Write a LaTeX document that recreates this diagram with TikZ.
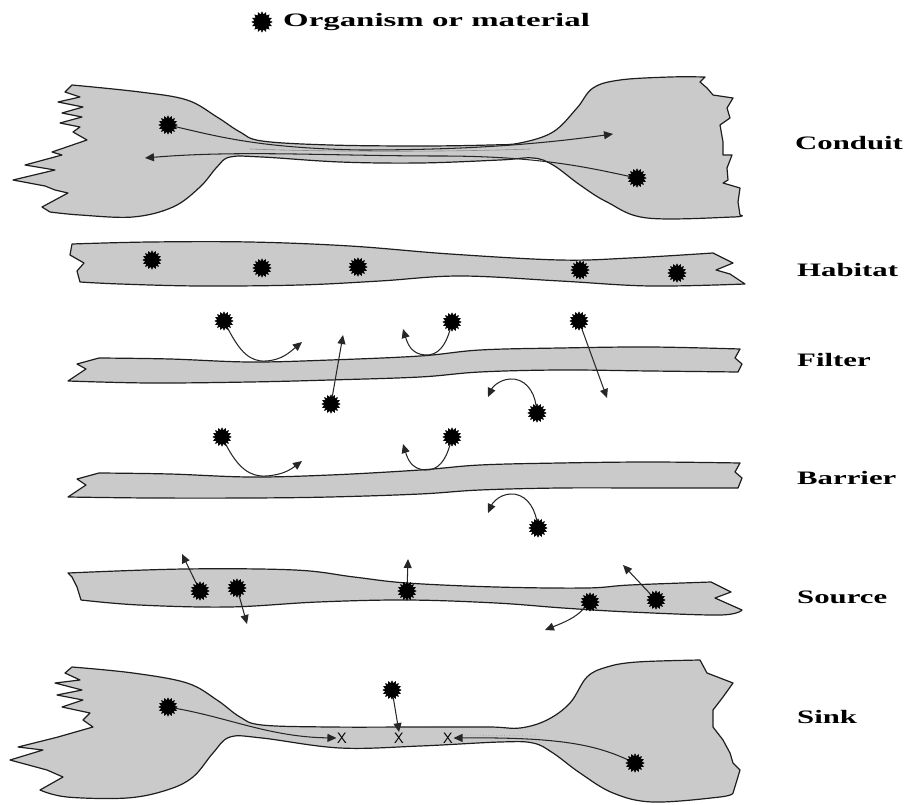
\documentclass[tikz,border=0pt]{standalone}
\usepackage{graphicx}
\usepackage{fontspec}
\setmainfont{Liberation Serif}
\usetikzlibrary{shapes.geometric,arrows.meta}
\definecolor{band}{RGB}{202,202,202}
\definecolor{edge}{RGB}{30,30,30}
\tikzset{
  region/.style={draw=edge, fill=band, line width=1.2pt, line join=round},
  org/.style={star, star points=16, star point ratio=1.38, fill=black, draw=black, line width=0.6pt, minimum size=18pt, inner sep=0pt},
  arr/.style={draw=black!85, line width=1.05pt, -{Triangle[length=9pt,width=8pt]}},
  flow/.style={draw=black!75, line width=0.9pt},
  lbl/.style={font=\bfseries\fontsize{19}{22}\selectfont, anchor=west, inner sep=0pt},
  xmark/.style={font=\sffamily\fontsize{15}{15}\selectfont, inner sep=0.5pt},
}
\newcommand{\lab}[1]{\scalebox{1.62}[1]{#1}}
\newcommand{\legtxt}[1]{\scalebox{1.73}[1]{#1}}
\begin{document}
\begin{tikzpicture}[x=1pt,y=-1pt]
\useasboundingbox (0,0) rectangle (912,805);

% legend
\node[org, minimum size=20pt] (leg) at (262,22) {};
\node[lbl] (legtext) at (283,22) {\legtxt{Organism or material}};

% ---------------- Conduit ----------------
\path[region] plot[smooth, tension=0.6] coordinates {(72,85) (140,92) (187,100) (217,117) (240,132) (262,141) (330,145) (420,146) (490,145) (520,143) (553,132) (577,108) (593,88) (620,80) (670,77) (705,77)}
  -- (700,82) -- (707,88) -- (713,95) -- (733,98) -- (727,108) -- (730,118) -- (720,125) -- (723,142) -- (723,155) -- (732,155) -- (727,168) -- (728,180) -- (723,183) -- (740,188) -- (738,202) -- (740,215)
  -- plot[smooth, tension=0.6] coordinates {(740,215) (733,217) (647,218) (607,202) (580,185) (553,165) (533,158) (500,160) (420,163) (340,162) (262,157) (230,157) (217,167) (200,187) (173,207) (133,217) (80,215) (50,212)}
  -- (42,207) -- (68,193) -- (55,190) -- (45,186) -- (13,180) -- (55,170) -- (25,165) -- (62,155) -- (52,152) -- (87,140) -- (73,132) -- (80,127) -- (60,123) -- (82,117) -- (62,113) -- (83,107) -- (58,102) -- (80,97) -- (65,92) -- cycle;
\draw[flow, draw=black!45, line width=0.6pt] (250,149) .. controls (330,152) and (450,152) .. (530,149);
\node[org] (c1) at (168,125) {};
\node[org] (c2) at (637,178) {};
\coordinate (c1end) at (613,134);
\coordinate (c2end) at (145,158);
\draw[arr] (c1) .. controls (220,137) and (260,148) .. (360,150) .. controls (470,150) and (540,144) .. (c1end);
\draw[arr] (c2) .. controls (590,168) and (540,156) .. (440,156) .. controls (330,156) and (240,150) .. (c2end);
\node[lbl] (lconduit) at (795,143) {\lab{Conduit}};

% ---------------- Habitat ----------------
\path[region] plot[smooth, tension=0.6] coordinates {(72,244) (150,242) (250,242) (350,246) (450,254) (560,260) (630,258) (713,253)}
  -- (733,263) -- (716,270) -- (730,274) -- (745,284)
  -- plot[smooth, tension=0.6] coordinates {(745,284) (650,286) (560,281) (460,276) (380,281) (300,285) (200,286) (120,284) (80,282)}
  -- (77,271) -- (84,263) -- (70,255) -- cycle;
\node[org] (h1) at (152,260) {};
\node[org] (h2) at (262,268) {};
\node[org] (h3) at (358,267) {};
\node[org] (h4) at (580,270) {};
\node[org] (h5) at (677,273) {};
\node[lbl] (lhabitat) at (797,270) {\lab{Habitat}};

% ---------------- Filter ----------------
\path[region] plot[smooth, tension=0.6] coordinates {(99,358) (170,359) (250,362) (330,360) (420,356) (480,350) (560,348) (650,347) (740,349)}
  -- (735,358) -- (742,364) -- (738,372)
  -- plot[smooth, tension=0.6] coordinates {(738,372) (650,371) (560,370) (480,372) (420,377) (330,380) (250,382) (150,383) (68,381)}
  -- (86,369) -- (77,364) -- cycle;
\node[org] (f1) at (224,321) {};
\node[org] (f2) at (452,322) {};
\node[org] (f3) at (579,321) {};
\node[org] (f4) at (331,404) {};
\node[org] (f5) at (537,413) {};
\coordinate (f1end) at (302,342);
\coordinate (f2end) at (403,329);
\coordinate (f3end) at (607,398);
\coordinate (f4end) at (343,335);
\coordinate (f5end) at (488,397);
\draw[arr] (f1) .. controls (240,352) and (250,362) .. (266,361) .. controls (282,360) and (290,352) .. (f1end);
\draw[arr] (f4) -- (f4end);
\draw[arr] (f2) .. controls (446,345) and (438,356) .. (425,355) .. controls (412,354) and (408,345) .. (f2end);
\draw[arr] (f3) -- (f3end);
\draw[arr] (f5) .. controls (534,390) and (524,378) .. (510,379) .. controls (498,380) and (492,388) .. (f5end);
\node[lbl] (lfilter) at (797,360) {\lab{Filter}};

% ---------------- Barrier ----------------
\path[region] plot[smooth, tension=0.6] coordinates {(99,473) (170,474) (250,477) (330,475) (420,470) (480,465) (560,463) (650,462) (740,463)}
  -- (735,472) -- (742,478) -- (738,488)
  -- plot[smooth, tension=0.6] coordinates {(738,488) (650,488) (560,488) (480,490) (420,494) (330,497) (250,498) (150,498) (68,497)}
  -- (86,485) -- (77,479) -- cycle;
\node[org] (b1) at (222,437) {};
\node[org] (b2) at (452,437) {};
\node[org] (b3) at (538,528) {};
\coordinate (b1end) at (302,461);
\coordinate (b2end) at (403,444);
\coordinate (b3end) at (488,513);
\draw[arr] (b1) .. controls (238,468) and (250,477) .. (266,476) .. controls (282,475) and (290,470) .. (b1end);
\draw[arr] (b2) .. controls (446,460) and (438,471) .. (425,470) .. controls (412,469) and (408,460) .. (b2end);
\draw[arr] (b3) .. controls (534,505) and (524,493) .. (510,494) .. controls (498,495) and (492,504) .. (b3end);
\node[lbl] (lbarrier) at (797,478) {\lab{Barrier}};

% ---------------- Source ----------------
\path[region] plot[smooth, tension=0.6] coordinates {(68,573) (184,569) (295,570) (354,577) (407,583) (496,587) (586,588) (630,585) (711,582)}
  -- (731,592) -- (715,598) -- (742,610)
  -- plot[smooth, tension=0.6] coordinates {(742,610) (720,615) (630,612) (563,608) (496,603) (407,600) (318,602) (229,607) (139,605) (81,600)}
  -- (77,587) -- (72,577) -- cycle;
\node[org] (s1) at (200,591) {};
\node[org] (s2) at (237,588) {};
\node[org] (s3) at (407,591) {};
\node[org] (s4) at (590,602) {};
\node[org] (s5) at (656,600) {};
\coordinate (s1end) at (182,554);
\coordinate (s2end) at (247,624);
\coordinate (s3end) at (408,559);
\coordinate (s4end) at (545,630);
\coordinate (s5end) at (623,565);
\draw[arr] (s1) -- (s1end);
\draw[arr] (s2) -- (s2end);
\draw[arr] (s3) -- (s3end);
\draw[arr] (s4) .. controls (575,618) and (565,622) .. (s4end);
\draw[arr] (s5) -- (s5end);
\node[lbl] (lsource) at (797,597) {\lab{Source}};

% ---------------- Sink ----------------
\path[region] plot[smooth, tension=0.6] coordinates {(72,667) (133,673) (187,683) (217,700) (240,717) (262,725) (330,727) (420,727) (490,727) (520,728) (547,720) (570,703) (587,677) (607,667) (637,662) (700,660)}
  -- (707,673) -- (733,683) -- (723,697) -- (713,710) -- (713,727) -- (723,740) -- (730,753) -- (733,763) -- (740,770) -- (737,780) -- (733,793)
  -- plot[smooth, tension=0.6] coordinates {(733,793) (720,797) (653,802) (613,793) (580,773) (553,753) (533,743) (500,742) (420,746) (340,748) (262,738) (230,737) (213,753) (193,777) (167,790) (127,798) (67,797) (40,790)}
  -- (63,777) -- (47,770) -- (10,760) -- (43,750) -- (18,747) -- (58,737) -- (93,727) -- (83,720) -- (90,713) -- (62,707) -- (83,700) -- (57,695) -- (82,690) -- (55,683) -- (80,680) -- (65,673) -- cycle;
\draw[flow, draw=black!40, line width=0.6pt, dotted] (465,735) -- (540,736);
\node[org] (k1) at (168,707) {};
\node[org] (k2) at (392,690) {};
\node[org] (k3) at (635,763) {};
\node[xmark] (x1) at (342,738) {X};
\node[xmark] (x2) at (399,738) {X};
\node[xmark] (x3) at (448,738) {X};
\draw[arr] (k1) .. controls (230,718) and (270,737) .. (x1.west);
\draw[arr] (k2) -- (x2.north);
\draw[arr] (k3) .. controls (595,745) and (560,737) .. (x3.east);
\node[lbl] (lsink) at (797,717) {\lab{Sink}};
\end{tikzpicture}
\end{document}
